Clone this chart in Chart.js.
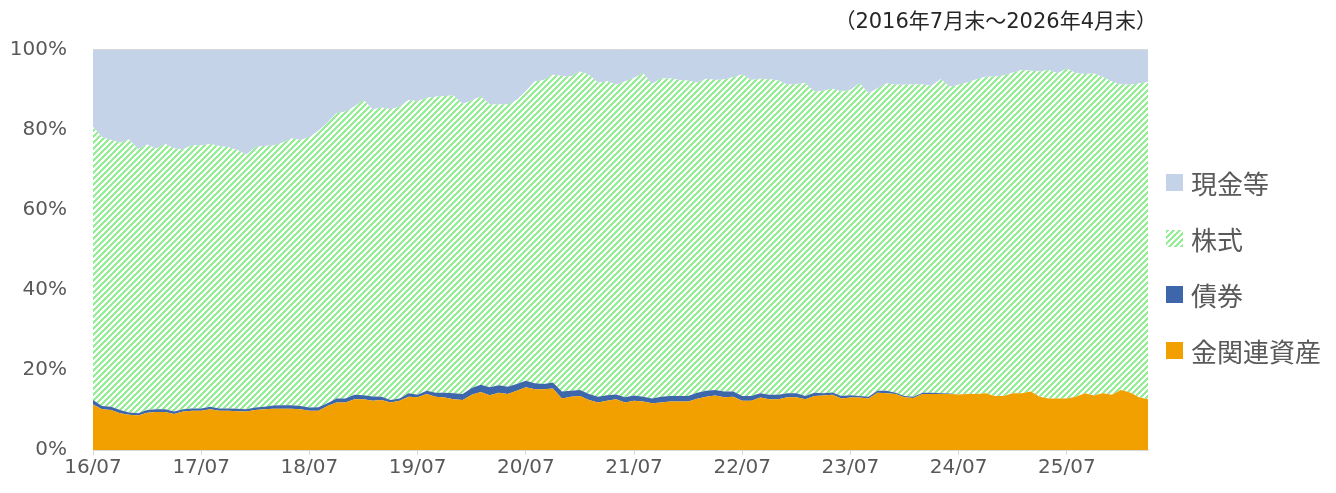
<!DOCTYPE html>
<html lang="ja">
<head>
<meta charset="utf-8">
<title>資産配分の推移</title>
<script src="https://cdn.jsdelivr.net/npm/chart.js@4.4.1/dist/chart.umd.min.js"></script>
<style>
  html, body { margin: 0; padding: 0; background: #fff; }
  #wrap { position: relative; width: 1336px; height: 493px; }
  #legend {
    position: absolute; left: 1166px; top: 169px;
    font-family: 'Noto Sans CJK JP', sans-serif; font-size: 26px; color: #595959;
  }
  .item { display: flex; align-items: center; height: 26px; margin-bottom: 30px; white-space: nowrap; }
  .box { width: 17px; height: 17px; margin-right: 8px; flex: none; }
</style>
</head>
<body>
<div id="wrap">
  <canvas id="AllocChart" width="1336" height="493"></canvas>
  <div id="legend"></div>
</div>
<script>
var periodText = '（2016年7月末～2026年4月末）';
var seriesNames = ['金関連資産', '債券', '株式', '現金等'];
var yTicks = [0, 20, 40, 60, 80, 100];

// month labels 16/07 .. 26/04
var categories = [];
for (var m = 0; m < 118; m++) {
  var yy = 16 + Math.floor((6 + m) / 12);
  var mm = (6 + m) % 12 + 1;
  categories.push(yy + '/' + (mm < 10 ? '0' + mm : mm));
}

// allocation, % of total
var gold = [11.4,10.2,10.0,9.2,8.8,8.6,9.3,9.5,9.5,9.0,9.6,9.8,
  9.8,10.2,9.8,9.8,9.7,9.6,10.0,10.2,10.3,10.3,10.3,10.2,
  9.8,9.8,11.0,11.9,11.9,12.7,12.7,12.3,12.5,11.9,12.3,13.3,
  13.2,14.0,13.3,13.1,12.7,12.5,13.8,14.5,13.7,14.3,14.0,14.8,
  15.7,15.2,15.2,15.4,12.9,13.3,13.5,12.5,11.9,12.3,12.7,11.9,
  12.3,12.1,11.7,11.9,12.1,12.1,12.1,12.8,13.3,13.6,13.2,13.3,
  12.3,12.3,13.1,12.7,12.7,13.2,13.2,12.7,13.5,13.6,13.8,12.9,
  13.1,13.1,12.9,14.3,14.2,14.0,13.2,13.0,14.0,14.0,14.0,14.0,
  13.9,14.0,14.0,14.2,13.5,13.5,14.2,14.2,14.6,13.3,12.9,12.9,
  12.9,13.3,14.2,13.6,14.2,13.8,15.0,14.4,13.2,12.7];
var bonds = [1.1,0.8,0.8,0.8,0.6,0.6,0.7,0.7,0.7,0.6,0.6,0.6,
  0.6,0.6,0.6,0.6,0.6,0.6,0.6,0.6,0.8,0.9,0.9,0.8,
  0.8,0.9,0.7,1.0,1.0,1.1,1.0,1.1,0.8,0.6,0.6,0.9,
  0.6,0.8,1.0,1.2,1.5,1.5,1.7,1.8,2.0,1.9,1.8,1.7,
  1.6,1.5,1.3,1.5,1.7,1.5,1.5,1.5,1.4,1.4,1.2,1.3,
  1.3,1.2,1.2,1.4,1.4,1.4,1.4,1.5,1.5,1.4,1.4,1.3,
  1.2,1.2,1.1,1.1,1.1,1.0,1.0,0.8,0.8,0.6,0.6,0.6,
  0.6,0.4,0.4,0.5,0.6,0.3,0.3,0.3,0.3,0.3,0.2,0.1,
  0,0,0,0,0,0,0,0,0,0,0,0,
  0,0,0,0,0,0,0,0,0,0];
var stocks = [68.3,67.2,66.7,66.8,68.2,66.0,66.4,65.1,66.3,65.8,65.0,65.8,
  65.7,65.7,65.6,65.3,64.7,63.6,65.1,65.2,65.0,65.6,66.7,66.5,
  67.6,69.1,70.1,71.3,71.7,72.1,73.8,71.7,72.3,72.7,72.9,73.3,
  73.4,73.2,74.0,74.2,74.4,72.5,71.9,72.1,70.7,70.2,70.6,71.0,
  72.4,75.4,76.0,76.9,78.9,78.6,79.6,79.8,78.5,78.5,77.4,78.9,
  79.4,80.9,78.6,79.6,79.4,79.0,78.8,77.5,78.0,77.5,78.0,78.6,
  80.4,79.0,78.6,78.9,78.6,77.1,77.3,78.2,75.3,75.6,75.9,76.1,
  76.3,78.2,75.9,75.6,76.8,77.0,77.8,78.1,77.1,76.7,78.5,76.7,
  77.4,77.9,78.7,79.1,79.8,80.1,80.1,80.8,80.2,81.3,82.1,81.3,
  82.5,80.9,79.8,80.5,79.0,78.3,76.4,76.9,78.4,79.3];
var cash = [19.2,21.8,22.5,23.2,22.5,24.8,23.6,24.7,23.5,24.6,24.8,23.8,
  23.9,23.5,24.0,24.3,25.0,26.2,24.3,24.0,24.0,23.2,22.1,22.5,
  21.8,20.2,18.2,15.8,15.4,14.2,12.5,15.0,14.4,14.8,14.2,12.5,
  12.9,12.1,11.7,11.5,11.4,13.5,12.7,11.7,13.6,13.6,13.6,12.5,
  10.4,7.9,7.5,6.2,6.5,6.7,5.4,6.2,8.2,7.9,8.7,7.9,
  7.1,5.8,8.5,7.1,7.1,7.5,7.7,8.2,7.2,7.5,7.4,6.8,
  6.1,7.5,7.2,7.4,7.7,8.7,8.5,8.3,10.4,10.2,9.8,10.4,
  10.0,8.3,10.8,9.6,8.5,8.7,8.7,8.6,8.6,9.0,7.3,9.2,
  8.7,8.1,7.3,6.7,6.7,6.4,5.7,5.0,5.2,5.4,5.0,5.8,
  4.6,5.8,6.0,5.9,6.8,8.0,8.6,8.7,8.4,8.0];

var goldColor = '#f2a000';
var bondColor = '#3e66ab';
var stockGreen = '#94ee94';
var cashColor = '#c5d3e8';
var axisGrey = '#595959';

function MakeHatch() {
  var c = document.createElement('canvas');
  c.width = 6; c.height = 6;
  var g = c.getContext('2d');
  g.fillStyle = '#ffffff';
  g.fillRect(0, 0, 6, 6);
  g.fillStyle = stockGreen;
  for (var y = 0; y < 6; y++) {
    for (var x = 0; x < 6; x++) {
      if ((x + y) % 6 < 3) g.fillRect(x, y, 1, 1);
    }
  }
  return c;
}

var hatchCanvas = MakeHatch();
var ctx = document.getElementById('AllocChart').getContext('2d');
var hatch = ctx.createPattern(hatchCanvas, 'repeat');

function Series(label, data, color, fill) {
  return {
    label: label,
    data: data,
    backgroundColor: color,
    borderWidth: 0,
    pointRadius: 0,
    tension: 0,
    fill: fill
  };
}

var frame = {
  id: 'frame',
  afterDatasetsDraw: function (chart) {
    var a = chart.chartArea;
    var c = chart.ctx;
    var top = Math.round(chart.scales.y.getPixelForValue(100)) - 0.5;
    c.save();
    c.strokeStyle = '#d9d9d9';
    c.lineWidth = 1;
    c.beginPath();
    c.moveTo(a.left, top);
    c.lineTo(a.right, top);
    c.stroke();
    c.font = '21px "DejaVu Sans", "Noto Sans CJK JP"';
    c.fillStyle = '#262626';
    c.textAlign = 'right';
    c.textBaseline = 'middle';
    c.fillText(periodText, a.right + 9, 23);
    c.restore();
  }
};

var config = {
  type: 'line',
  data: {
    labels: categories,
    datasets: [
      Series(seriesNames[0], gold, goldColor, 'origin'),
      Series(seriesNames[1], bonds, bondColor, '-1'),
      Series(seriesNames[2], stocks, hatch, '-1'),
      Series(seriesNames[3], cash, cashColor, '-1')
    ]
  },
  options: {
    responsive: false,
    animation: false,
    layout: { padding: { top: 50, right: 188, bottom: 0, left: 0 } },
    plugins: {
      legend: { display: false },
      tooltip: { enabled: false }
    },
    scales: {
      x: {
        offset: false,
        grid: { display: true, drawOnChartArea: false, drawTicks: true, tickLength: 5, color: '#d9d9d9' },
        border: { display: true, color: '#d9d9d9' },
        ticks: {
          autoSkip: false,
          maxRotation: 0,
          padding: 1,
          color: axisGrey,
          font: { family: '"DejaVu Sans"', size: 20 },
          callback: function (v, i) { return i % 12 === 0 ? categories[i] : null; }
        },
        afterFit: function (s) { s.height = 43; }
      },
      y: {
        stacked: true,
        min: 0,
        max: 100,
        grid: { display: false, drawTicks: false },
        border: { display: false },
        afterBuildTicks: function (s) { s.ticks = yTicks.map(function (v) { return { value: v }; }); },
        ticks: {
          padding: 26,
          color: axisGrey,
          font: { family: '"DejaVu Sans"', size: 20 },
          callback: function (v) { return v + '%'; }
        },
        afterFit: function (s) { s.width = 93; }
      }
    }
  },
  plugins: [frame]
};

new Chart(ctx, config);

// legend, top of stack first
var legendItems = [
  { name: seriesNames[3], bg: cashColor },
  { name: seriesNames[2], bg: 'url(' + hatchCanvas.toDataURL() + ')' },
  { name: seriesNames[1], bg: bondColor },
  { name: seriesNames[0], bg: goldColor }
];
var legend = document.getElementById('legend');
legendItems.forEach(function (it) {
  var row = document.createElement('div');
  row.className = 'item';
  var box = document.createElement('span');
  box.className = 'box';
  box.style.background = it.bg;
  var txt = document.createElement('span');
  txt.textContent = it.name;
  row.appendChild(box);
  row.appendChild(txt);
  legend.appendChild(row);
});
</script>
</body>
</html>
